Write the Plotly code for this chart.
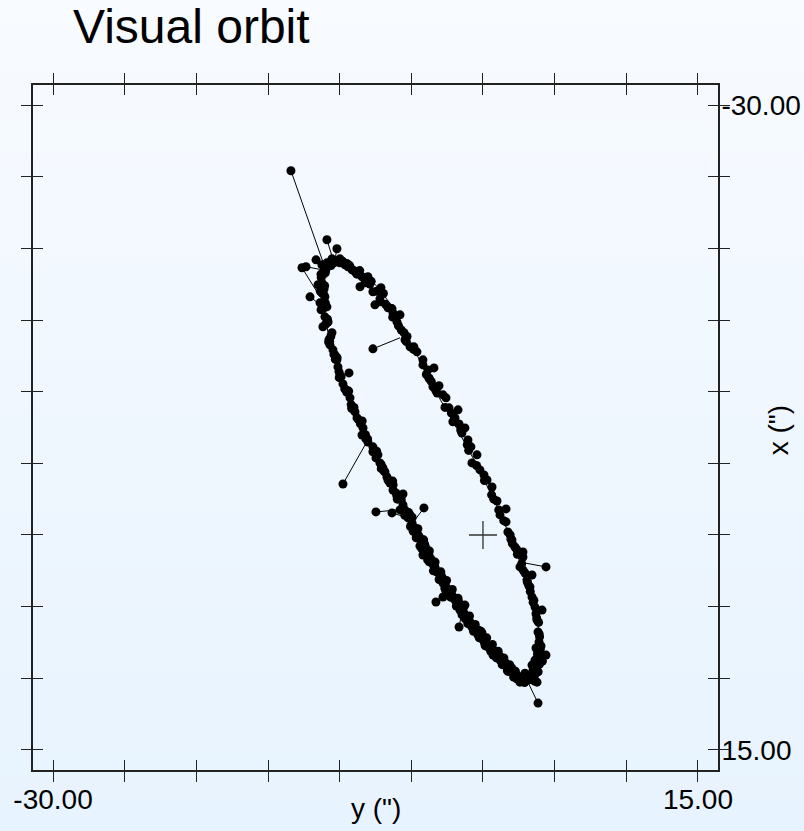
import base64
import struct
import zlib

import plotly.graph_objects as go

# Relative positions (arcsec): y is the horizontal offset, x the vertical one.
# Apparent orbit traced through the fitted positions.
orbit_y = [-10.47, -9.63, -8.79, -8.03, -7.33, -6.63, -6.07, -5.58, -5.09, -4.54,
           -4.05, -3.49, -2.93, -2.37, -1.81, -1.26, -0.70, -0.14, 0.35, 0.84,
           1.33, 1.74, 2.16, 2.58, 3.00, 3.35, 3.63, 3.84, 3.98, 3.91,
           3.70, 3.35, 3.07, 2.23, 1.40, 0.63, -0.07, -0.77, -1.47, -2.16,
           -2.79, -3.35, -3.91, -4.47, -5.02, -5.58, -6.14, -6.70, -7.26, -7.82,
           -8.30, -8.79, -9.28, -9.70, -10.12, -10.47, -10.82, -11.03, -11.17, -11.24,
           -11.10, -10.75, -10.47]
orbit_x = [-19.27, -19.06, -18.65, -18.02, -17.25, -16.34, -15.36, -14.39, -13.41, -12.43,
           -11.45, -10.41, -9.36, -8.38, -7.40, -6.42, -5.38, -4.33, -3.28, -2.30,
           -1.26, -0.21, 0.84, 1.89, 3.00, 4.12, 5.24, 6.35, 7.47, 8.45,
           9.29, 9.92, 10.13, 9.78, 8.94, 8.10, 7.19, 6.28, 5.24, 4.26,
           3.28, 2.30, 1.26, 0.21, -0.91, -2.03, -3.14, -4.19, -5.24, -6.28,
           -7.33, -8.38, -9.43, -10.47, -11.66, -12.92, -14.18, -15.36, -16.55, -17.60,
           -18.51, -19.06, -19.27]

# Measured positions lying close to the orbit
obs_y = [
    # periastron end
    -10.89, -10.54, -9.98, -10.33, -11.17, -11.24, -11.51, -11.17, -11.03, -10.89,
    -9.42, -8.93, -8.44, -8.58, -8.03, -8.23, -7.68, -7.12, -7.19, -7.54,
    -6.63, -11.24, -10.96, -9.63, -9.14,
    -10.20, -9.80, -11.05, -11.30, -11.35, -10.70, -8.60, -9.30,
    -10.00, -9.50, -11.00, -10.60, -8.80, -7.90, -7.40, -10.40,
    # western arc
    -11.37, -11.03, -11.17, -10.54, -10.47, -10.19, -10.12, -9.35, -9.77, -9.28,
    -9.14, -8.79, -8.37, -8.44, -8.03, -7.68, -11.30, -10.89, -10.75, -10.33,
    -9.98, -9.56, -8.93, -11.10, -10.68,
    -5.70, -6.00, -6.27, -6.55, -6.90, -7.10, -7.45, -7.65, -8.05, -8.20,
    -8.55, -8.70, -9.00, -9.20, -9.50, -9.65, -9.90, -10.05, -10.30, -10.40,
    -10.70, -10.62, -10.98, -10.85, -11.15, -11.00, -11.25, -11.05,
    -7.68, -7.19, -6.84, -6.70, -6.49, -6.28, -5.58, -5.93, -5.58, -5.23,
    -4.95, -4.61, -4.19, -4.40, -4.19, -3.77, -3.49, -3.21, -2.86, -7.47,
    -6.98, -6.07, -5.79, -5.44, -4.75, -4.47, -3.98, -3.63, -3.35, -3.00,
    -5.09, -6.63, -7.33,
    -2.79, -2.44, -1.74, -1.26, -1.61, -1.12, -0.56, -0.07, 0.14, 0.63,
    0.70, 1.33, 1.67, 2.02, 2.23, 2.58, 2.93, 3.42, 3.77, -2.58,
    -2.16, -1.95, -1.40, -0.91, -0.77, -0.35, 0.35, 0.98, 1.54, 1.88,
    2.44, 2.72, 3.14, -1.81, -2.30,
    2.77, 1.70, 1.14, 0.16, -0.30, -1.24, -1.70, -2.60, -2.95, -3.75,
    -4.07, -4.87, -5.18, -5.98, -6.30, -7.10, -7.42, -8.18, -8.43, -9.16,
    -9.37, -10.03, -10.18, -10.77, -10.81, -11.22, -11.09, -11.29,
    2.40, 2.00, 1.60, 1.20, 0.85, 0.45, 0.05, -0.25, -0.60, -0.95,
    -1.30, -1.65, -2.00, -2.30, -2.65, -2.95, -3.20, -3.50, -3.80, -4.05,
    -4.30, -4.60, -4.90, -5.15, -5.45,
    -5.46, -5.06, -4.66, -4.26, -3.86, -3.46, -3.06, -2.66, -2.26, -1.86,
    -1.46, -1.06, -0.66, -0.26, 0.14, 0.54, 0.94, 1.34, 1.74, 2.14,
    -4.94, -4.54, -4.14, -3.74, -3.34, -2.94, -2.54, -2.14, -1.74, -1.34,
    -0.94, -0.54, -0.14, 0.26, 0.66, 1.06, 1.46, 1.86, 2.26,
    2.90, 3.30, 3.60, 2.50, 3.00,
    # eastern arc
    -7.19, -6.63, -6.00, -5.51, -5.09, -4.82, -4.19, -4.19, -3.84, -3.42,
    -3.49, -3.07, -2.37, -1.74, -1.95, -1.67, -1.26, -1.47, -0.84, -0.42,
    -0.77, 0.28, 0.63, 0.98, 1.61, 1.61, 1.74, 2.02, 2.23, 2.79,
    2.79, 2.58, 2.93, 3.42, 3.28, 3.42, 3.63, 3.77, 3.84, 3.91,
    3.63, 3.98, 3.77, -5.79, -6.28, -5.44, -4.61, -2.79, -1.05, -0.21,
    0.07, 1.19, 3.07, 3.70, 3.42, -3.77, -2.58,
    -7.80, -6.95, -6.35, -5.30, -4.85, -3.75, -3.20, -2.65, -2.10, -1.00,
    -0.45, 0.10, 0.60, 1.10, 1.95, 2.40, 2.80, 3.20, 3.50, 3.75,
    3.92, 4.00, 3.85, 3.55, 3.20, 3.95, 3.60,
    -6.80, -6.30, -5.90, -5.70, -5.35, -3.95, -3.60, -3.30, -2.20, -1.55,
    -1.10, 0.75, 1.45, 1.90, 2.05, 2.35, 2.70, 3.10, 3.30, 3.55,
    3.70, 3.88, 3.95, 4.05, 3.80, 3.50, 3.85, 3.30, 4.15,
]
obs_x = [
    -18.99, -19.27, -19.27, -19.06, -18.16, -17.60, -17.46, -17.25, -16.62, -15.92,
    -18.72, -18.37, -18.02, -17.32, -18.02, -17.60, -16.97, -17.25, -16.48, -16.06,
    -15.92, -18.85, -18.51, -18.85, -18.51,
    -19.15, -19.10, -18.70, -18.20, -17.00, -19.00, -18.45, -18.80,
    -19.00, -18.95, -18.30, -18.80, -18.20, -17.50, -17.00, -19.00,
    -16.20, -15.22, -14.53, -14.11, -12.92, -12.22, -11.73, -11.31, -10.54, -9.57,
    -8.87, -8.17, -7.47, -6.98, -6.49, -6.15, -15.71, -14.87, -13.62, -12.57,
    -11.17, -10.13, -8.59, -16.76, -13.27,
    -2.45, -2.70, -3.50, -3.80, -4.45, -4.90, -5.60, -5.90, -6.70, -7.00,
    -7.75, -8.05, -8.90, -9.10, -9.95, -10.20, -11.05, -11.40, -12.25, -12.60,
    -13.50, -13.85, -14.70, -15.05, -15.80, -16.20, -16.90, -17.40,
    -5.80, -5.03, -4.40, -4.05, -3.63, -3.14, -2.86, -2.58, -2.09, -1.19,
    -0.84, -0.21, 0.35, 0.77, 1.40, 1.40, 1.96, 2.58, 2.93, -5.38,
    -4.68, -2.93, -1.75, -1.61, -0.49, 0.07, 0.91, 1.68, 2.23, 2.79,
    -1.40, -3.84, -5.59,
    3.35, 3.84, 4.68, 4.89, 5.24, 5.73, 6.63, 6.84, 7.47, 7.89,
    8.38, 8.59, 9.08, 9.29, 9.92, 10.27, 9.64, 9.92, 10.27, 3.63,
    4.19, 4.54, 5.38, 6.08, 6.42, 6.98, 7.68, 8.38, 8.87, 9.43,
    9.85, 9.99, 10.13, 4.89, 3.98,
    9.87, 9.45, 8.43, 7.74, 6.65, 5.85, 4.66, 3.86, 2.70, 1.87,
    0.65, -0.26, -1.56, -2.50, -3.76, -4.63, -5.85, -6.72, -7.95, -8.82,
    -10.04, -10.98, -12.38, -13.46, -14.86, -15.87, -17.17, -17.97,
    10.05, 9.55, 9.10, 8.75, 8.25, 7.90, 7.40, 6.95, 6.45, 6.00,
    5.50, 5.00, 4.45, 4.05, 3.50, 3.05, 2.55, 2.05, 1.50, 1.00,
    0.50, -0.05, -0.60, -1.20, -1.75,
    -1.37, -0.59, 0.19, 0.97, 1.74, 2.50, 3.11, 3.73, 4.34, 4.96,
    5.58, 6.19, 6.72, 7.18, 7.65, 8.12, 8.58, 9.05, 9.52, 9.92,
    -1.22, -0.44, 0.34, 1.11, 1.89, 2.57, 3.18, 3.80, 4.41, 5.03,
    5.65, 6.24, 6.71, 7.18, 7.64, 8.11, 8.58, 9.05, 9.51,
    10.30, 10.05, 9.80, 9.95, 9.85,
    -16.27, -15.85, -14.87, -14.11, -13.13, -13.13, -12.22, -11.87, -11.52, -11.66,
    -10.34, -10.41, -8.87, -8.73, -8.17, -7.75, -7.47, -7.12, -6.15, -5.59,
    -5.03, -3.84, -3.35, -2.37, -1.82, -0.91, -0.21, 0.35, 0.84, 1.19,
    1.54, 2.23, 2.65, 2.79, 3.63, 4.33, 5.03, 5.94, 6.77, 7.47,
    8.73, 8.52, 9.43, -15.36, -15.50, -13.62, -12.78, -9.78, -6.63, -4.54,
    -4.19, -1.40, 3.14, 7.89, 9.08, -10.96, -9.57,
    -17.70, -16.85, -15.80, -13.85, -12.95, -10.90, -9.90, -8.90, -7.90, -5.90,
    -4.85, -3.80, -2.80, -1.75, 0.30, 1.35, 2.45, 3.55, 4.70, 5.80,
    6.90, 8.00, 8.95, 9.65, 10.05, 9.00, 10.20,
    -16.10, -15.20, -14.60, -14.30, -13.50, -11.20, -10.70, -10.10, -8.50, -7.30,
    -6.30, -2.50, -1.00, 0.00, 0.60, 1.00, 2.00, 3.30, 3.95, 4.55,
    5.50, 6.10, 7.10, 7.75, 8.30, 9.40, 9.55, 9.75, 8.80,
]

# Measurements with a visible O-C residual: observed -> computed position
res_obs_y = [-13.40, -10.89, -10.19, -11.65, -12.63, -12.35, -12.07, -7.68, -9.77, -7.47,
             -6.35, -4.12, 4.40, -3.28, -2.79, -1.67, 3.84, 4.12, 4.40]
res_obs_x = [-25.42, -20.60, -19.97, -19.20, -18.65, -18.72, -16.62, -12.99, -3.56, -1.61,
             -1.54, -1.89, 2.23, 4.68, 4.33, 6.42, 11.73, 5.24, 8.38]
res_fit_y = [-11.17, -10.54, -10.33, -11.10, -11.37, -11.24, -11.24, -5.79, -8.23, -5.93,
             -5.44, -4.75, 2.58, -2.65, -2.44, -1.47, 3.07, 3.70, 3.91]
res_fit_x = [-19.06, -19.48, -19.20, -18.92, -16.62, -18.51, -15.99, -13.76, -6.28, -1.75,
             -1.26, -1.05, 1.89, 3.98, 3.84, 5.38, 10.13, 5.10, 8.17]

# Primary star
primary_y = [0.0]
primary_x = [0.0]

tick_vals = [-30, -25, -20, -15, -10, -5, 0, 5, 10, 15]
tick_text = ["-30.00", "", "", "", "", "", "", "", "", "15.00"]
axis_range = [-31.4, 16.4]

FONT = "Liberation Sans, Arial, Helvetica, sans-serif"
INK = "#222222"


def gradient_png(top, bottom, height=256):
    """Vertical colour ramp encoded as a small PNG data URI."""
    raw = b""
    for i in range(height):
        t = i / (height - 1)
        px = bytes(round(a + (b - a) * t) for a, b in zip(top, bottom))
        raw += b"\x00" + px * 2

    def chunk(tag, data):
        return (struct.pack(">I", len(data)) + tag + data
                + struct.pack(">I", zlib.crc32(tag + data) & 0xFFFFFFFF))

    png = (b"\x89PNG\r\n\x1a\n"
           + chunk(b"IHDR", struct.pack(">IIBBBBB", 2, height, 8, 2, 0, 0, 0))
           + chunk(b"IDAT", zlib.compress(raw))
           + chunk(b"IEND", b""))
    return "data:image/png;base64," + base64.b64encode(png).decode()


# residual segments, separated by gaps
seg_y, seg_x = [], []
for y0, x0, y1, x1 in zip(res_obs_y, res_obs_x, res_fit_y, res_fit_x):
    seg_y += [y0, y1, None]
    seg_x += [x0, x1, None]

fig = go.Figure()
fig.add_trace(go.Scatter(x=orbit_y, y=orbit_x, mode="lines", line_shape="spline",
                         line=dict(color="black", width=1), hoverinfo="skip"))
fig.add_trace(go.Scatter(x=seg_y, y=seg_x, mode="lines",
                         line=dict(color="black", width=1), hoverinfo="skip"))
fig.add_trace(go.Scatter(x=obs_y + res_obs_y, y=obs_x + res_obs_x, mode="markers",
                         marker=dict(color="black", size=9, line=dict(width=0))))
fig.add_trace(go.Scatter(x=primary_y, y=primary_x, mode="markers", xaxis="x2", yaxis="y2",
                         marker=dict(symbol="cross-thin", size=20,
                                     line=dict(color="#333333", width=1.3))))

common = dict(range=axis_range, tickvals=tick_vals, ticklen=10, tickwidth=1.2,
              tickcolor=INK, showline=True, linecolor=INK, linewidth=1.6,
              mirror="ticks", showgrid=False, zeroline=False, fixedrange=True,
              automargin=False)

fig.update_layout(
    width=804, height=831, autosize=False,
    margin=dict(l=33, r=86, t=85, b=61, autoexpand=False),
    paper_bgcolor="#eef6fe", plot_bgcolor="rgba(0,0,0,0)",
    showlegend=False,
    font=dict(family=FONT, color="black"),
    title=dict(text="Visual orbit", font=dict(family=FONT, size=48, color="black"),
               x=73 / 804, xanchor="left", xref="container",
               y=1 - 26 / 831, yanchor="middle", yref="container"),
    xaxis=dict(**common, ticks="inside", ticktext=tick_text, side="bottom",
               ticklabelstandoff=4,
               tickfont=dict(family=FONT, size=28, color="black"), domain=[0, 1]),
    xaxis2=dict(**common, ticks="outside", showticklabels=False, overlaying="x",
                anchor="y2", side="bottom"),
    yaxis=dict(**{**common, "range": axis_range[::-1]}, ticks="inside",
               ticktext=tick_text, side="right", ticklabelstandoff=-4,
               tickfont=dict(family=FONT, size=28, color="black"), domain=[0, 1]),
    yaxis2=dict(**{**common, "range": axis_range[::-1]}, ticks="outside",
                showticklabels=False, overlaying="y", anchor="x2", side="right"),
    images=[dict(source=gradient_png((248, 251, 255), (231, 243, 254)),
                 xref="paper", yref="paper", x=-33 / 685, y=1 + 85 / 685,
                 sizex=804 / 685, sizey=831 / 685, xanchor="left", yanchor="top",
                 sizing="stretch", layer="below")],
    annotations=[
        dict(text='y (")', xref="paper", yref="paper", x=0.5, y=-38 / 685,
             xanchor="center", yanchor="middle", showarrow=False,
             font=dict(family=FONT, size=28, color="black")),
        dict(text='x (")', xref="paper", yref="paper", x=1 + 60 / 685, y=0.496,
             xanchor="center", yanchor="middle", textangle=-90, showarrow=False,
             font=dict(family=FONT, size=28, color="black")),
    ],
)

fig.write_html("out.html", config={"responsive": False})
